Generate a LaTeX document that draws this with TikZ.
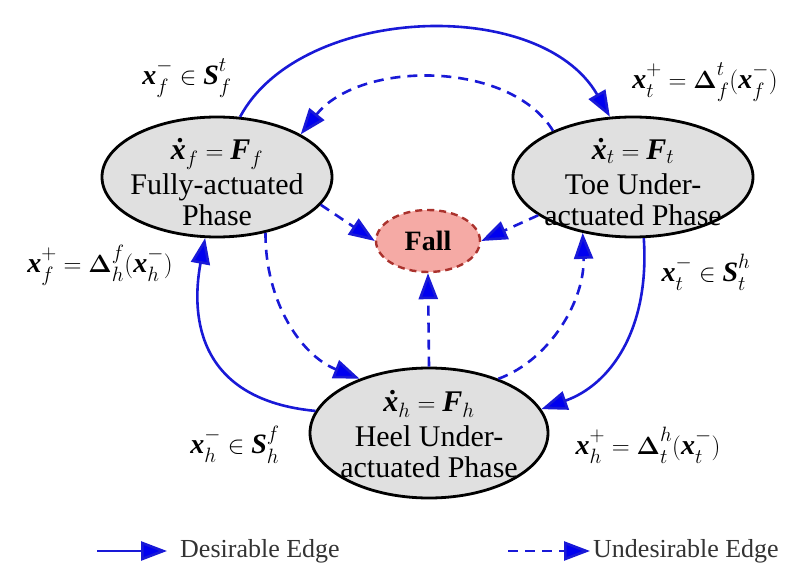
\documentclass[tikz,border=0pt]{standalone}
\usepackage{amsmath}
\usepackage{fontspec}
\setmainfont{Liberation Serif}
\usetikzlibrary{arrows.meta,shapes.geometric}
\newcommand{\vx}{\text{\bfseries\itshape x}}
\newcommand{\vdx}{\text{\bfseries\itshape ẋ}}
\newcommand{\vS}{\text{\bfseries\itshape S}}
\newcommand{\vF}{\text{\bfseries\itshape F}}
\newcommand{\vD}{\boldsymbol{\Delta}}
\newcommand{\labmath}[1]{$\fontdimen14\textfont2=13pt\fontdimen17\textfont2=9pt\fontdimen16\textfont2=8pt #1$}
\definecolor{phasegray}{RGB}{224,224,224}
\definecolor{fallpink}{RGB}{245,170,165}
\definecolor{falldark}{RGB}{170,50,45}
\definecolor{edgeblue}{RGB}{25,25,215}
\definecolor{tipblue}{RGB}{0,0,240}
\begin{document}
\begin{tikzpicture}[x=1pt,y=-1pt,
  phase/.style={ellipse,draw=black,line width=2.8pt,fill=phasegray,inner sep=0pt},
  ptext/.style={align=center,font=\fontsize{30}{31}\selectfont,inner sep=0pt},
  lab/.style={font=\fontsize{28}{30}\selectfont,inner sep=0pt},
  legtext/.style={font=\fontsize{26}{28}\selectfont,inner sep=0pt,anchor=west,text=black!80},
  good/.style={draw=edgeblue,line width=2.6pt,-{Triangle[length=26pt,width=19pt,fill=tipblue]}},
  bad/.style={good,dash pattern=on 10pt off 7pt}]
\useasboundingbox (0,0) rectangle (809,575);
% phases
\node[phase,minimum width=230pt,minimum height=120pt] (f) at (217,177) {};
\node[phase,minimum width=240pt,minimum height=120pt] (t) at (633,177) {};
\node[phase,minimum width=238pt,minimum height=130pt] (h) at (429,433) {};
\node[ellipse,draw=falldark,fill=fallpink,line width=2.4pt,dash pattern=on 7pt off 5pt,
      minimum width=104pt,minimum height=62pt,inner sep=0pt,
      font=\fontsize{28}{30}\selectfont\bfseries] (fa) at (428,241) {Fall};
\node[ptext] (ftxt) at (217,182) {$\vdx_f=\vF_f$\\[4pt]Fully-actuated\\Phase};
\node[ptext] (ttxt) at (633,182) {$\vdx_t=\vF_t$\\[4pt]Toe Under-\\actuated Phase};
\node[ptext] (htxt) at (429,434) {$\vdx_h=\vF_h$\\[4pt]Heel Under-\\actuated Phase};
% labels
\node[lab] (l1) at (187,78) {\labmath{\vx_f^{-}\in\vS_f^{t}}};
\node[lab] (l2) at (705,82) {\labmath{\vx_t^{+}=\vD_f^{t}(\vx_f^{-})}};
\node[lab] (l3) at (100,265) {\labmath{\vx_f^{+}=\vD_h^{f}(\vx_h^{-})}};
\node[lab] (l4) at (706,272) {\labmath{\vx_t^{-}\in\vS_t^{h}}};
\node[lab] (l5) at (235,445) {\labmath{\vx_h^{-}\in\vS_h^{f}}};
\node[lab] (l6) at (648,445) {\labmath{\vx_h^{+}=\vD_t^{h}(\vx_t^{-})}};
% desirable edges
\draw[good] (f.69) .. controls (300,5) and (540,-5) .. (t.111);
\draw[good] (t.-80) .. controls (650,330) and (610,385) .. (h.12);
\draw[good] (h.169) .. controls (200,400) and (190,320) .. (f.-101);
% undesirable edges
\draw[bad] (t.150) .. controls (510,60) and (360,60) .. (f.27);
\draw[bad] (f.-49) .. controls (265,300) and (300,355) .. (h.142);
\draw[bad] (h.38) .. controls (550,360) and (585,300) .. (t.-132);
\draw[bad] (f.-15) -- (fa.west);
\draw[bad] (t.202) -- (fa.east);
\draw[bad] (h.north) -- (fa.south);
% legend
\coordinate (ls1) at (97,551);
\coordinate (le1) at (167,551);
\coordinate (ls2) at (508,551);
\coordinate (le2) at (590,551);
\draw[good] (ls1) -- (le1);
\draw[bad] (ls2) -- (le2);
\node[legtext] (lt1) at (180,551) {Desirable Edge};
\node[legtext] (lt2) at (593,551) {Undesirable Edge};
\end{tikzpicture}
\end{document}
